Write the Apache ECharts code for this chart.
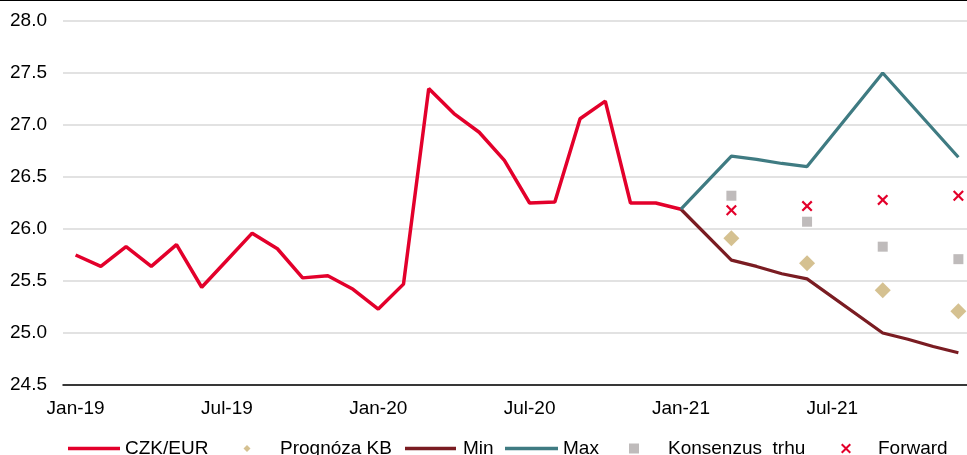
<!DOCTYPE html>
<html>
<head>
<meta charset="utf-8">
<script src="https://cdn.jsdelivr.net/npm/echarts@6/dist/echarts.min.js"></script>
<style>
  html, body { margin: 0; padding: 0; background: #fff; }
  #main { width: 967px; height: 455px; box-sizing: border-box; border-top: 1px solid #000; }
</style>
</head>
<body>
<div id="main"></div>
<script>
var months = [
  'Jan-19','Feb-19','Mar-19','Apr-19','May-19','Jun-19','Jul-19','Aug-19','Sep-19','Oct-19','Nov-19','Dec-19',
  'Jan-20','Feb-20','Mar-20','Apr-20','May-20','Jun-20','Jul-20','Aug-20','Sep-20','Oct-20','Nov-20','Dec-20',
  'Jan-21','Feb-21','Mar-21','Apr-21','May-21','Jun-21','Jul-21','Aug-21','Sep-21','Oct-21','Nov-21','Dec-21'
];

// CZK/EUR, Jan-19 .. Jan-21
var czkEur = [
  25.75, 25.64, 25.83, 25.64, 25.85, 25.44, 25.70, 25.96, 25.81, 25.53, 25.55, 25.42,
  25.23, 25.47, 27.35, 27.11, 26.93, 26.66, 26.25, 26.26, 27.06, 27.23, 26.25, 26.25,
  26.19
];

var maxMonths = ['Jan-21','Mar-21','Apr-21','May-21','Jun-21','Sep-21','Dec-21'];
var maxVals   = [26.19, 26.70, 26.67, 26.63, 26.60, 27.50, 26.69];

var minMonths = ['Jan-21','Mar-21','Apr-21','May-21','Jun-21','Sep-21','Oct-21','Nov-21','Dec-21'];
var minVals   = [26.19, 25.70, 25.64, 25.57, 25.52, 25.00, 24.94, 24.87, 24.81];

var quarters   = ['Mar-21','Jun-21','Sep-21','Dec-21'];
var prognozaKB = [25.91, 25.67, 25.41, 25.21];
var konsenzus  = [26.32, 26.07, 25.83, 25.71];
var forward    = [26.18, 26.22, 26.28, 26.32];

var yTicks = { min: 24.5, max: 28, step: 0.5 };

var FONT = '"Liberation Sans", Arial, sans-serif';
var RED = '#E3002B', DARKRED = '#7A1C22', TEAL = '#3F7B82', TAN = '#D5C191', GREY = '#BFBBBB';
var CROSS = 'path://M0,1.4L1.4,0L5,3.6L8.6,0L10,1.4L6.4,5L10,8.6L8.6,10L5,6.4L1.4,10L0,8.6L3.6,5Z';

function pairs(labels, values) {
  return labels.map(function (m, i) { return [m, values[i]]; });
}

// one legend per entry so each sits where the original has it
function legendAt(name, icon, left, width, height, textPad) {
  return {
    data: [{ name: name, icon: icon }], left: left, top: 438, padding: 0,
    itemWidth: width, itemHeight: height,
    textStyle: { fontSize: 19, color: '#000', fontFamily: FONT, padding: [0, 0, 0, textPad] }
  };
}

var chart = echarts.init(document.getElementById('main'));
chart.setOption({
  animation: false,
  textStyle: { fontFamily: FONT },
  grid: { left: 63, top: 20, width: 908, height: 364, outerBoundsMode: 'none' },
  legend: [
    legendAt('CZK/EUR', 'rect', 68, 52, 3.5, 0),
    legendAt('Prognóza KB', 'diamond', 243.5, 7, 7, 24.5),
    legendAt('Min', 'rect', 405, 51, 3.5, 2),
    legendAt('Max', 'rect', 505, 53, 3.5, 0),
    legendAt('Konsenzus  trhu', 'rect', 629, 10, 10, 24),
    legendAt('Forward', CROSS, 841, 10, 10, 22)
  ],
  xAxis: {
    type: 'category',
    data: months,
    boundaryGap: true,
    axisLine: { lineStyle: { color: '#000', width: 1.5 } },
    axisTick: { interval: 5, length: 6, lineStyle: { color: '#000', width: 1.5 } },
    axisLabel: { interval: 5, fontSize: 19, color: '#000', margin: 14, fontFamily: FONT },
    splitLine: { show: false }
  },
  yAxis: {
    type: 'value',
    min: yTicks.min, max: yTicks.max, interval: yTicks.step,
    axisLine: { show: false },
    axisTick: { show: false },
    axisLabel: {
      fontSize: 19, color: '#000', margin: 16, fontFamily: FONT,
      formatter: function (v) { return v.toFixed(1); }
    },
    splitLine: { lineStyle: { color: '#D9D9D9', width: 1.5 } }
  },
  series: [
    {
      name: 'CZK/EUR', type: 'line', data: pairs(months, czkEur),
      symbol: 'none', lineStyle: { color: RED, width: 3.5 }, itemStyle: { color: RED }, z: 3
    },
    {
      name: 'Prognóza KB', type: 'scatter', data: pairs(quarters, prognozaKB),
      symbol: 'diamond', symbolSize: 16, itemStyle: { color: TAN, opacity: 1 }
    },
    {
      name: 'Min', type: 'line', data: pairs(minMonths, minVals),
      symbol: 'none', lineStyle: { color: DARKRED, width: 3.25 }, itemStyle: { color: DARKRED }
    },
    {
      name: 'Max', type: 'line', data: pairs(maxMonths, maxVals),
      symbol: 'none', lineStyle: { color: TEAL, width: 3.25 }, itemStyle: { color: TEAL }
    },
    {
      name: 'Konsenzus  trhu', type: 'scatter', data: pairs(quarters, konsenzus),
      symbol: 'rect', symbolSize: 10, itemStyle: { color: GREY, opacity: 1 }
    },
    {
      name: 'Forward', type: 'scatter', data: pairs(quarters, forward),
      symbol: CROSS, symbolSize: 11, itemStyle: { color: RED, opacity: 1 }
    }
  ]
});
</script>
</body>
</html>
